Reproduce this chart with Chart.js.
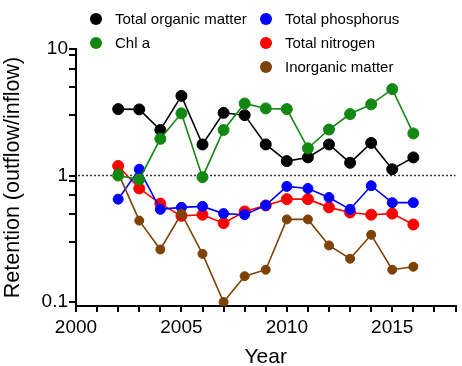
<!DOCTYPE html>
<html>
<head>
<meta charset="utf-8">
<script src="https://cdn.jsdelivr.net/npm/chart.js@4/dist/chart.umd.min.js"></script>
<style>
  html, body { margin: 0; padding: 0; background: #fff; }
  #wrap { position: relative; width: 462px; height: 366px; }
  canvas { position: absolute; left: 0; top: 0; }
  .lg { position: absolute; font: 15px "Liberation Sans", Arial, sans-serif; color: #000; line-height: 18px; white-space: nowrap; }
  .lg i { position: absolute; left: -25px; top: 3px; width: 12px; height: 12px; border-radius: 50%; }
</style>
</head>
<body>
<div id="wrap">
  <canvas id="chart" width="462" height="366"></canvas>
  <div id="legend"></div>
</div>
<script>
const years = [2002, 2003, 2004, 2005, 2006, 2007, 2008, 2009, 2010, 2011, 2012, 2013, 2014, 2015, 2016];
const organic = [3.35, 3.33, 2.29, 4.26, 1.76, 3.13, 3.0, 1.76, 1.30, 1.39, 1.76, 1.26, 1.81, 1.12, 1.39];
const chla = [1.0, 0.93, 1.95, 3.1, 0.97, 2.29, 3.71, 3.39, 3.35, 1.64, 2.31, 3.06, 3.65, 4.82, 2.15];
const phosphorus = [0.65, 1.12, 0.54, 0.56, 0.57, 0.50, 0.49, 0.58, 0.82, 0.79, 0.67, 0.54, 0.83, 0.61, 0.61];
const nitrogen = [1.19, 0.79, 0.60, 0.48, 0.49, 0.42, 0.52, 0.58, 0.65, 0.65, 0.56, 0.51, 0.49, 0.50, 0.41];
const inorganic = [1.05, 0.44, 0.26, 0.50, 0.24, 0.10, 0.16, 0.18, 0.45, 0.45, 0.28, 0.22, 0.34, 0.18, 0.19];

const yTicks = [0.1, 0.3, 0.5, 0.7, 0.9, 1, 3, 5, 7, 9, 10];
const yLabels = { 0.1: '0.1', 1: '1', 10: '10' };
const xLabelYears = [2000, 2005, 2010, 2015];

const FONT = '"Liberation Sans", Arial, sans-serif';

const series = [
  { label: 'Total organic matter', data: organic, color: '#000000', r: 5.5, order: 4, lx: 115, ly: 10 },
  { label: 'Chl a', data: chla, color: '#128812', r: 5.5, order: 0, lx: 115, ly: 34 },
  { label: 'Total phosphorus', data: phosphorus, color: '#0000ff', r: 5, order: 2, lx: 285, ly: 10 },
  { label: 'Total nitrogen', data: nitrogen, color: '#ff0000', r: 5.5, order: 3, lx: 285, ly: 34 },
  { label: 'Inorganic matter', data: inorganic, color: '#7d4204', r: 4.5, order: 1, lx: 285, ly: 58 }
];

// legend as html
const legend = document.getElementById('legend');
series.forEach(s => {
  legend.innerHTML += `<div class="lg" style="left:${s.lx}px;top:${s.ly}px"><i style="background:${s.color}"></i>${s.label}</div>`;
});

const refLine = {
  id: 'refLine',
  beforeDatasetsDraw(chart) {
    const { ctx, chartArea, scales } = chart;
    const y = scales.y.getPixelForValue(1);
    ctx.save();
    ctx.strokeStyle = '#333';
    ctx.lineWidth = 1.5;
    ctx.setLineDash([2, 2]);
    ctx.beginPath();
    ctx.moveTo(chartArea.left + 2, y);
    ctx.lineTo(chartArea.right, y);
    ctx.stroke();
    ctx.restore();
  }
};

new Chart(document.getElementById('chart'), {
  type: 'line',
  data: {
    datasets: series.map(s => ({
      label: s.label,
      data: years.map((yr, i) => ({ x: yr, y: s.data[i] })),
      borderColor: s.color,
      backgroundColor: s.color,
      pointBackgroundColor: s.color,
      pointBorderColor: s.color,
      pointRadius: s.r,
      pointBorderWidth: 1,
      borderWidth: 1.6,
      order: s.order,
      tension: 0
    }))
  },
  options: {
    responsive: false,
    animation: false,
    layout: { padding: { top: 49, right: 1, left: 0, bottom: 0 } },
    plugins: { legend: { display: false }, tooltip: { enabled: false } },
    scales: {
      x: {
        type: 'linear',
        min: 2000,
        max: 2018,
        afterFit: s => { s.height = 60; },
        border: { color: '#000', width: 2 },
        grid: { display: true, drawOnChartArea: false, drawTicks: true, tickLength: 6, color: '#000', lineWidth: 2 },
        ticks: {
          stepSize: 1,
          autoSkip: false,
          maxRotation: 0,
          padding: 4,
          color: '#000',
          font: { family: FONT, size: 19 },
          callback: v => xLabelYears.includes(v) ? String(v) : ''
        },
        title: { display: true, text: 'Year', color: '#000', font: { family: FONT, size: 21 }, padding: { top: 2, bottom: -4 } }
      },
      y: {
        type: 'logarithmic',
        min: 0.093,
        max: 10,
        afterFit: s => { s.width = 76; },
        afterBuildTicks: s => { s.ticks = yTicks.map(v => ({ value: v })); },
        border: { color: '#000', width: 2 },
        grid: { display: true, drawOnChartArea: false, drawTicks: true, tickLength: 7, color: '#000', lineWidth: 2 },
        ticks: {
          autoSkip: false,
          padding: 1,
          color: '#000',
          font: { family: FONT, size: 19 },
          callback: v => yLabels[v] || ''
        },
        title: { display: true, text: 'Retention (outflow/inflow)', color: '#000', font: { family: FONT, size: 21.5 }, padding: { top: 0, bottom: 2 } }
      }
    }
  },
  plugins: [refLine]
});
</script>
</body>
</html>
